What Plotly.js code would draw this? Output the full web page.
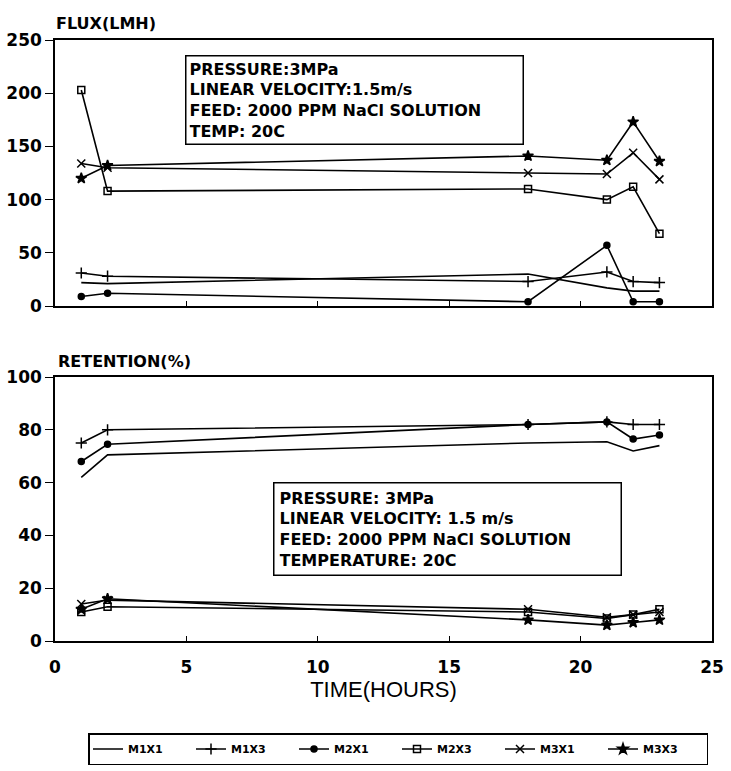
<!DOCTYPE html>
<html>
<head>
<meta charset="utf-8">
<script src="https://cdn.plot.ly/plotly-3.0.1.min.js"></script>
<style>html,body{margin:0;padding:0;background:#fff;}#chart{width:731px;height:771px;}</style>
</head>
<body>
<div id="chart"></div>
<script>
// ---- data ----
const hours = [1, 2, 18, 21, 22, 23];
const seriesNames = ["M1X1", "M1X3", "M2X1", "M2X3", "M3X1", "M3X3"];

const fluxM1X1 = [22, 21, 30, 17, 14, 14];
const fluxM1X3 = [31, 28, 23, 32, 23, 22];
const fluxM2X1 = [9, 12, 4, 57, 4, 4];
const fluxM2X3 = [203, 108, 110, 100, 112, 68];
const fluxM3X1 = [134, 130, 125, 124, 144, 119];
const fluxM3X3 = [120, 132, 141, 137, 173, 136];

const retM1X1 = [62, 70.5, 75, 75.5, 72, 74];
const retM1X3 = [75, 80, 82, 83, 82, 82];
const retM2X1 = [68, 74.5, 82, 83, 76.5, 78];
const retM2X3 = [11, 13, 11, 8.5, 10, 12];
const retM3X1 = [14, 15.5, 12, 9, 10, 11];
const retM3X3 = [12, 16, 8, 6, 7, 8];

const fluxTickVals = [0, 50, 100, 150, 200, 250];
const retTickVals = [0, 20, 40, 60, 80, 100];
const timeTickVals = [0, 5, 10, 15, 20, 25];

const topBoxLines = ["PRESSURE:3MPa", "LINEAR VELOCITY:1.5m/s", "FEED: 2000 PPM NaCl SOLUTION", "TEMP: 20C"];
const bottomBoxLines = ["PRESSURE: 3MPa", "LINEAR VELOCITY: 1.5 m/s", "FEED: 2000 PPM NaCl SOLUTION", "TEMPERATURE: 20C"];

// ---- styles ----
const markerStyles = {
  M1X1: {mode: "lines", marker: {}},
  M1X3: {mode: "lines+markers", marker: {symbol: "cross-thin-open", size: 8}},
  M2X1: {mode: "lines+markers", marker: {symbol: "circle", size: 6}},
  M2X3: {mode: "lines+markers", marker: {symbol: "square-open", size: 7}},
  M3X1: {mode: "lines+markers", marker: {symbol: "x-thin-open", size: 8}},
  M3X3: {mode: "lines+markers", marker: {symbol: "star", size: 8}}
};
const fluxData = [fluxM1X1, fluxM1X3, fluxM2X1, fluxM2X3, fluxM3X1, fluxM3X3];
const retData = [retM1X1, retM1X3, retM2X1, retM2X3, retM3X1, retM3X3];

const traces = [];
seriesNames.forEach((name, i) => {
  const st = markerStyles[name];
  const mk = Object.assign({color: "#000", line: {color: "#000", width: 1.5}}, st.marker);
  traces.push({x: hours, y: fluxData[i], name: name, type: "scatter", mode: st.mode,
    line: {color: "#000", width: 1.6}, marker: mk, xaxis: "x", yaxis: "y",
    legendgroup: name, showlegend: true});
  traces.push({x: hours, y: retData[i], name: name, type: "scatter", mode: st.mode,
    line: {color: "#000", width: 1.6}, marker: mk, xaxis: "x2", yaxis: "y2",
    legendgroup: name, showlegend: false});
});

const L = 55, R = 19, T = 40, B = 130, W = 731, H = 771;
const pw = W - L - R, ph = H - T - B;
const px = v => (v - L) / pw;
const py = v => (H - B - v) / ph;

const tickFont = {family: "DejaVu Sans, Arial, sans-serif", size: 17, weight: "bold", color: "#000"};
const boxFont = {family: "DejaVu Sans, Arial, sans-serif", size: 16, weight: "bold", color: "#000"};

const axisCommon = {showline: true, mirror: true, linecolor: "#000", linewidth: 1.8,
  showgrid: false, zeroline: false, tickcolor: "#000", automargin: false};

const layout = {
  width: W, height: H,
  margin: {l: L, r: R, t: T, b: B, autoexpand: false},
  paper_bgcolor: "#fff", plot_bgcolor: "#fff",
  showlegend: true,
  legend: {orientation: "h", xref: "container", yref: "container",
    x: 88 / W, xanchor: "left", y: 1 - 733 / H, yanchor: "top",
    bordercolor: "#000", borderwidth: 1.5, bgcolor: "#fff",
    font: {family: "DejaVu Sans, Arial, sans-serif", size: 11, weight: "bold", color: "#000"},
    itemwidth: 30, entrywidth: 58, entrywidthmode: "pixels", tracegroupgap: 0},
  xaxis: Object.assign({}, axisCommon, {domain: [0, 1], range: [0, 25], anchor: "y",
    tickvals: timeTickVals, showticklabels: false, ticks: "inside", ticklen: 5}),
  yaxis: Object.assign({}, axisCommon, {domain: [py(306), 1], range: [0, 250], anchor: "x",
    tickvals: fluxTickVals, ticks: "outside", ticklen: 8, tickfont: tickFont}),
  xaxis2: Object.assign({}, axisCommon, {domain: [0, 1], range: [0, 25], anchor: "y2",
    tickvals: timeTickVals, ticks: "inside", ticklen: 5, tickfont: tickFont, ticklabelstandoff: 10,
    title: {text: "TIME(HOURS)", font: {family: "Liberation Sans, Arial, sans-serif", size: 22, color: "#000"}, standoff: 2}}),
  yaxis2: Object.assign({}, axisCommon, {domain: [0, py(377)], range: [0, 100], anchor: "x2",
    tickvals: retTickVals, ticks: "outside", ticklen: 8, tickfont: tickFont}),
  annotations: [
    {text: "FLUX(LMH)", xref: "paper", yref: "paper", x: px(54), y: py(23), xanchor: "left", yanchor: "middle",
      showarrow: false, font: boxFont},
    {text: "RETENTION(%)", xref: "paper", yref: "paper", x: px(56), y: py(361), xanchor: "left", yanchor: "middle",
      showarrow: false, font: boxFont},
    {text: topBoxLines.join("<br>"), xref: "paper", yref: "paper", x: px(185), y: py(55),
      xanchor: "left", yanchor: "top", align: "left", showarrow: false, font: boxFont,
      bordercolor: "#000", borderwidth: 1.5, borderpad: 3, bgcolor: "#fff", width: 330},
    {text: bottomBoxLines.join("<br>"), xref: "paper", yref: "paper", x: px(273), y: py(482),
      xanchor: "left", yanchor: "top", align: "left", showarrow: false, font: boxFont,
      bordercolor: "#000", borderwidth: 1.5, borderpad: 5, bgcolor: "#fff", width: 336}
  ]
};

Plotly.newPlot("chart", traces, layout, {displayModeBar: false, staticPlot: true});
</script>
</body>
</html>
